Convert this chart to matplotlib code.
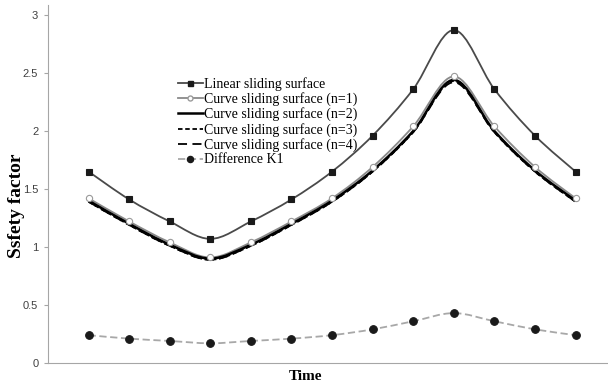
import numpy as np
import matplotlib
matplotlib.use("Agg")
import matplotlib.pyplot as plt
from matplotlib.path import Path
from matplotlib.patches import PathPatch
from matplotlib.lines import Line2D

# Safety factor over time for each sliding surface model
time_steps = list(range(13))
linear_surface = [1.65, 1.41, 1.22, 1.07, 1.22, 1.41, 1.65, 1.96, 2.36, 2.87, 2.36, 1.96, 1.65]
curve_n1 = [1.42, 1.22, 1.04, 0.91, 1.04, 1.22, 1.42, 1.69, 2.04, 2.47, 2.04, 1.69, 1.42]
curve_n2 = [1.40, 1.20, 1.02, 0.90, 1.02, 1.20, 1.40, 1.66, 2.00, 2.44, 2.00, 1.66, 1.40]
curve_n3 = [1.39, 1.19, 1.01, 0.89, 1.01, 1.19, 1.39, 1.65, 1.99, 2.43, 1.99, 1.65, 1.39]
curve_n4 = [1.39, 1.19, 1.01, 0.89, 1.01, 1.19, 1.39, 1.65, 1.99, 2.42, 1.99, 1.65, 1.39]
difference_k1 = [0.24, 0.21, 0.19, 0.17, 0.19, 0.21, 0.24, 0.29, 0.36, 0.43, 0.36, 0.29, 0.24]
y_ticks = [0, 0.5, 1, 1.5, 2, 2.5, 3]
y_tick_labels = ["0", "0.5", "1", "1.5", "2", "2.5", "3"]


def smooth_path(xs, ys):
    """Cubic Bezier path through the points (Catmull-Rom style smoothing)."""
    pts = np.column_stack([xs, ys]).astype(float)
    n = len(pts)
    verts = [pts[0]]
    codes = [Path.MOVETO]
    for i in range(n - 1):
        p0 = pts[i - 1] if i > 0 else pts[i]
        p1 = pts[i]
        p2 = pts[i + 1]
        p3 = pts[i + 2] if i + 2 < n else pts[i + 1]
        c1 = p1 + (p2 - p0) / 6.0
        c2 = p2 - (p3 - p1) / 6.0
        verts += [c1, c2, p2]
        codes += [Path.CURVE4] * 3
    return Path(verts, codes)


fig = plt.figure(figsize=(6.08, 3.86), dpi=100)
ax = fig.add_axes([48 / 608, 23 / 386, 560 / 608, 358 / 386])

serif = ["Liberation Serif", "DejaVu Serif"]

series = [
    dict(y=linear_surface, color="#4a4a4a", lw=1.3, ls="-", marker="s", ms=4.5,
         mfc="#1a1a1a", mec="#1a1a1a", label="Linear sliding surface"),
    dict(y=curve_n1, color="#8a8a8a", lw=1.3, ls="-", marker="o", ms=4.5,
         mfc="white", mec="#9a9a9a", label="Curve sliding surface (n=1)"),
    dict(y=curve_n2, color="#000000", lw=1.8, ls="-", marker=None, ms=0,
         mfc="none", mec="none", label="Curve sliding surface (n=2)"),
    dict(y=curve_n3, color="#000000", lw=1.3, ls=(0, (2.5, 1.5)), marker=None, ms=0,
         mfc="none", mec="none", label="Curve sliding surface (n=3)"),
    dict(y=curve_n4, color="#000000", lw=1.3, ls=(0, (5, 3)), marker=None, ms=0,
         mfc="none", mec="none", label="Curve sliding surface (n=4)"),
    dict(y=difference_k1, color="#a8a8a8", lw=1.3, ls=(0, (4, 2)), marker="o", ms=5.5,
         mfc="#1a1a1a", mec="#1a1a1a", label="Difference K1"),
]

handles = []
for s in series:
    patch = PathPatch(smooth_path(time_steps, s["y"]), facecolor="none",
                      edgecolor=s["color"], lw=s["lw"], linestyle=s["ls"],
                      transform=ax.transData, zorder=2)
    ax.add_patch(patch)
    if s["marker"]:
        ax.plot(time_steps, s["y"], linestyle="none", marker=s["marker"],
                ms=s["ms"], mfc=s["mfc"], mec=s["mec"], mew=0.8, zorder=3)
    handles.append(Line2D([], [], color=s["color"], lw=s["lw"], linestyle=s["ls"],
                          marker=s["marker"] if s["marker"] else None,
                          ms=s["ms"] * 0.8, mfc=s["mfc"], mec=s["mec"]))

ax.set_xlim(-1, 12.8)
ax.set_ylim(0, 3.086)

for side in ("top", "right"):
    ax.spines[side].set_visible(False)
ax.spines["left"].set_color("#a6a6a6")
ax.spines["bottom"].set_color("#a6a6a6")

ax.set_xticks([])
ax.set_yticks(y_ticks)
ax.set_yticklabels(y_tick_labels, fontfamily="Liberation Sans", fontsize=8, color="#404040")
ax.tick_params(axis="y", direction="out", length=3, color="#a6a6a6", pad=4)

ax.set_ylabel("Ssfety factor", fontfamily=serif, fontweight="bold", fontsize=14)
ax.yaxis.set_label_coords(-0.041, 0.44)
ax.set_xlabel("Time", fontfamily=serif, fontweight="bold", fontsize=11)
ax.xaxis.set_label_coords(0.459, -0.02)

leg = ax.legend(handles, [s["label"] for s in series], loc="upper left",
                bbox_to_anchor=(0.232, 0.799), frameon=False,
                prop={"family": serif, "size": 10},
                handlelength=1.8, handletextpad=0.1, labelspacing=0.1,
                borderaxespad=0, borderpad=0)

fig.savefig("out.png", dpi=100)
